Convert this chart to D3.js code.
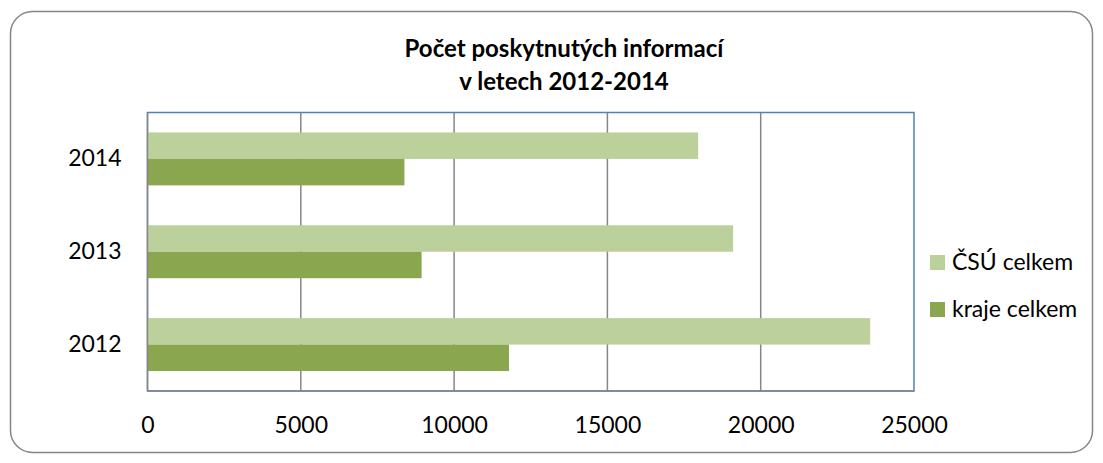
<!DOCTYPE html>
<html><head><meta charset="utf-8">
<script src="https://cdn.jsdelivr.net/npm/d3@7"></script>
<style>body{margin:0;background:#fff;}svg{display:block;font-family:Lato,"Open Sans",sans-serif;}</style>
</head><body>
<svg id="c" width="1103" height="463"></svg>
<script>
const years = ["2014","2013","2012"];
const seriesNames = ["ČSÚ celkem","kraje celkem"];
const csu = [17960, 19100, 23570];
const kraje = [8380, 8940, 11790];
const xTicks = [0,5000,10000,15000,20000,25000];
const colors = ["#BBD09A","#8AA64E"];
const titleLines = ["Počet poskytnutých informací","v letech 2012-2014"];

const svg = d3.select("#c");
svg.append("rect").attr("x",10.5).attr("y",11.5).attr("width",1082).attr("height",441)
  .attr("rx",22).attr("fill","#fff").attr("stroke","#868686").attr("stroke-width",1.5);

const L=147.5, R=914, T=112.5, B=391;
const x = d3.scaleLinear().domain([0,25000]).range([L,R]);
const y = d3.scaleBand().domain(years).range([T,B]).paddingInner(0.43).paddingOuter(0.215);
const ys = d3.scaleBand().domain([0,1]).range([0,y.bandwidth()]);

// gridlines
svg.append("g").selectAll("line").data(xTicks.slice(1,-1)).join("line")
  .attr("x1",d=>x(d)).attr("x2",d=>x(d)).attr("y1",T).attr("y2",B)
  .attr("stroke","#868686").attr("stroke-width",1.5);

// plot border
svg.append("rect").attr("x",L).attr("y",T).attr("width",R-L).attr("height",B-T)
  .attr("fill","none").attr("stroke","#4F81BD").attr("stroke-width",1.5);

const data = [csu,kraje];
data.forEach((arr,si)=>{
  svg.append("g").selectAll("rect").data(arr).join("rect")
    .attr("x",x(0)).attr("y",(d,i)=>y(years[i])+ys(si))
    .attr("width",d=>x(d)-x(0)).attr("height",ys.bandwidth())
    .attr("fill",colors[si]);
});

// axis lines (gray) left and bottom
svg.append("line").attr("x1",L).attr("x2",L).attr("y1",T).attr("y2",B).attr("stroke","#868686").attr("stroke-width",1.5);
svg.append("line").attr("x1",L).attr("x2",R).attr("y1",B).attr("y2",B).attr("stroke","#868686").attr("stroke-width",1.5);

// x axis
const xa = svg.append("g").attr("transform",`translate(0,${B})`)
  .call(d3.axisBottom(x).tickValues(xTicks).tickSize(0).tickPadding(0).tickFormat(d3.format("d")));
xa.select(".domain").remove();
xa.selectAll("text").attr("font-size",23).attr("fill","#000").attr("dy",0).attr("y",42)
  .attr("font-family","Lato,sans-serif");

// y axis
const ya = svg.append("g").attr("transform",`translate(${L},0)`)
  .call(d3.axisLeft(y).tickSize(0).tickPadding(26));
ya.select(".domain").remove();
ya.selectAll("text").attr("font-size",23).attr("fill","#000").attr("font-family","Lato,sans-serif").attr("dy","0.32em");

// title
svg.append("g").selectAll("text").data(titleLines).join("text")
  .attr("x",564).attr("y",(d,i)=>56.5+i*33).attr("text-anchor","middle")
  .attr("font-size",24).attr("font-weight","bold").attr("fill","#000").text(d=>d);

// legend
const lg = svg.append("g");
seriesNames.forEach((n,i)=>{
  lg.append("rect").attr("x",930).attr("y",255+i*47).attr("width",15).attr("height",15).attr("fill",colors[i]);
  lg.append("text").attr("x",952).attr("y",270+i*47).attr("font-size",23).attr("fill","#000").text(n);
});
</script>
</body></html>
